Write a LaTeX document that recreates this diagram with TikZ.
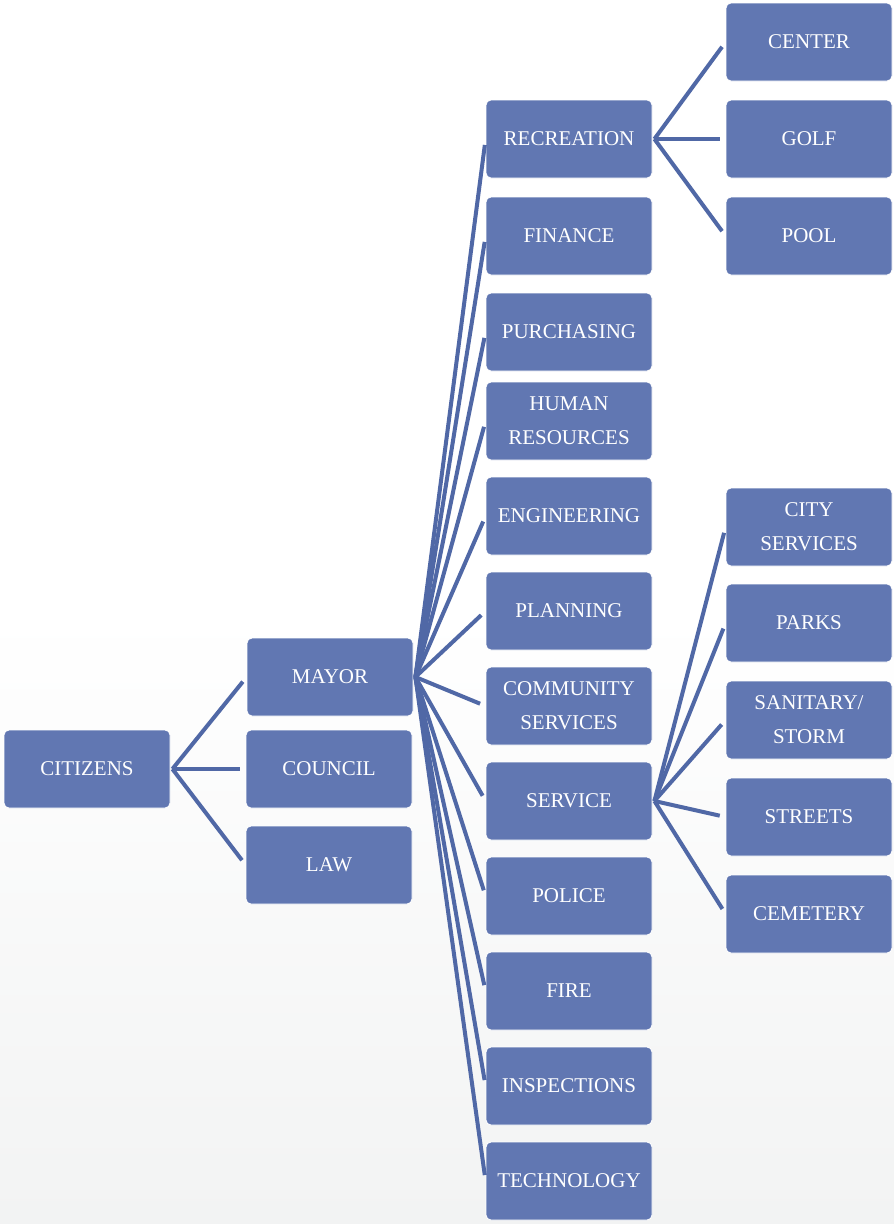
\documentclass[tikz,border=0pt]{standalone}
\usepackage{fontspec}
\setmainfont{Liberation Serif}
\definecolor{boxfill}{RGB}{97,119,178}
\definecolor{linec}{RGB}{80,104,166}
\definecolor{bgbottom}{RGB}{242,243,243}
\begin{document}
\begin{tikzpicture}[x=1pt,y=-1pt,
  box/.style={rectangle, rounded corners=5pt, fill=boxfill, draw=white, line width=0.8pt,
    minimum width=166pt, minimum height=78pt, inner sep=0pt, text=white, align=center,
    font=\fontsize{21}{34}\selectfont},
  conn/.style={draw=linec, line width=4pt, shorten >=6pt}]
\shade[top color=white, bottom color=bgbottom, middle color=white] (0,0) rectangle (894,1224);
\useasboundingbox (0,0) rectangle (894,1224);
% column 1
\node[box] (citizens) at (87,769) {CITIZENS};
% column 2
\node[box] (mayor) at (330,677) {MAYOR};
\node[box] (council) at (329,769) {COUNCIL};
\node[box] (law) at (329,865) {LAW};
% column 3
\node[box] (recreation) at (569,139) {RECREATION};
\node[box] (finance) at (569,236) {FINANCE};
\node[box] (purchasing) at (569,332) {PURCHASING};
\node[box] (hr) at (569,421) {HUMAN\\RESOURCES};
\node[box] (engineering) at (569,516) {ENGINEERING};
\node[box] (planning) at (569,611) {PLANNING};
\node[box] (community) at (569,706) {COMMUNITY\\SERVICES};
\node[box] (service) at (569,801) {SERVICE};
\node[box] (police) at (569,896) {POLICE};
\node[box] (fire) at (569,991) {FIRE};
\node[box] (inspections) at (569,1086) {INSPECTIONS};
\node[box] (technology) at (569,1181) {TECHNOLOGY};
% column 4
\node[box] (center) at (809,42) {CENTER};
\node[box] (golf) at (809,139) {GOLF};
\node[box] (pool) at (809,236) {POOL};
\node[box] (city) at (809,527) {CITY\\SERVICES};
\node[box] (parks) at (809,623) {PARKS};
\node[box] (sanitary) at (809,720) {SANITARY/\\STORM};
\node[box] (streets) at (809,817) {STREETS};
\node[box] (cemetery) at (809,914) {CEMETERY};
% connectors
\foreach \c in {mayor,council,law}
  \draw[conn] ([xshift=2pt]citizens.east) -- (\c.west);
\foreach \c in {recreation,finance,purchasing,hr,engineering,planning,community,service,police,fire,inspections,technology}
  \draw[conn] ([xshift=2pt]mayor.east) -- (\c.west);
\foreach \c in {center,golf,pool}
  \draw[conn] ([xshift=2pt]recreation.east) -- (\c.west);
\foreach \c in {city,parks,sanitary,streets,cemetery}
  \draw[conn] ([xshift=2pt]service.east) -- (\c.west);
\end{tikzpicture}
\end{document}
